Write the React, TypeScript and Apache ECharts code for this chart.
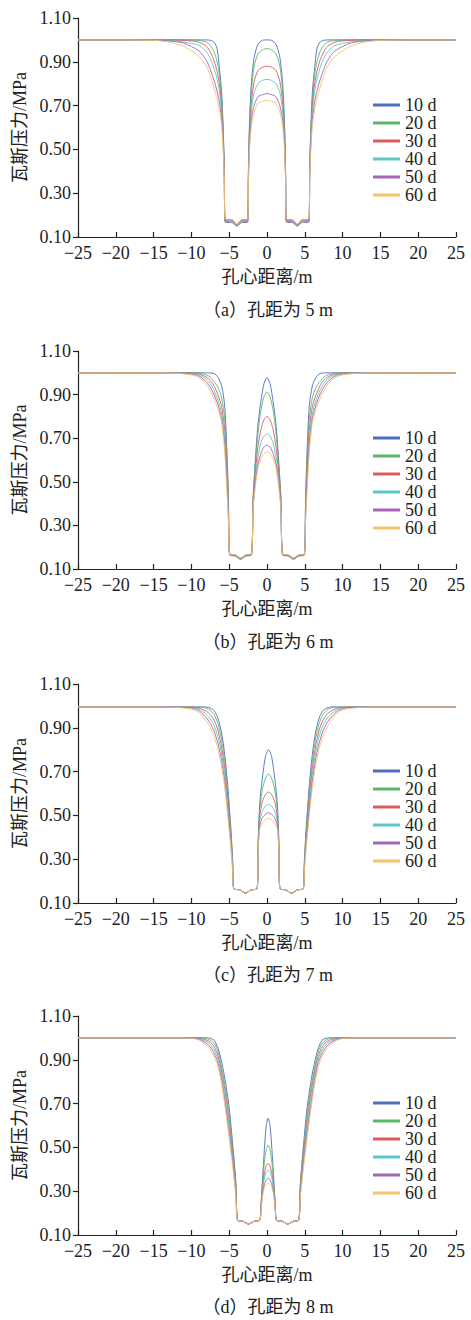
import React, { useEffect, useRef } from "react";
import * as echarts from "echarts";

const SERIES_NAMES = ["10 d", "20 d", "30 d", "40 d", "50 d", "60 d"];
const SERIES_COLORS = ["#4a6fbd", "#5bb86b", "#dd5b60", "#5ec6c6", "#a465b5", "#f5c46c"];
const CAPTIONS = ["（a）孔距为 5 m", "（b）孔距为 6 m", "（c）孔距为 7 m", "（d）孔距为 8 m"];
const X_NAME = "孔心距离/m";
const Y_NAME = "瓦斯压力/MPa";

// Panel (a) 5 m
const P1_X = [-25, -15, -13, -11, -9, -8, -7.5, -7, -6.6, -6.3, -6.0, -5.8, -5.65, -5.55, -4.6, -4.0, -3.4, -2.55, -2.45, -2.3, -2.05, -1.7, -1.2, -0.6, 0, 0.6, 1.2, 1.7, 2.05, 2.3, 2.45, 2.55, 3.4, 4.0, 4.6, 5.55, 5.65, 5.8, 6.0, 6.3, 6.6, 7, 7.5, 8, 9, 11, 13, 15, 25];
const P1_10 = [1, 1, 1, 1, 1, 1, 0.998, 0.99, 0.96, 0.87, 0.76, 0.6, 0.42, 0.168, 0.165, 0.15, 0.165, 0.168, 0.42, 0.64, 0.81, 0.92, 0.98, 0.998, 1, 0.998, 0.98, 0.92, 0.81, 0.64, 0.42, 0.168, 0.165, 0.15, 0.165, 0.168, 0.42, 0.6, 0.76, 0.87, 0.96, 0.99, 0.998, 1, 1, 1, 1, 1, 1];
const P1_20 = [1, 1, 1, 1, 0.998, 0.99, 0.975, 0.945, 0.9, 0.84, 0.73, 0.58, 0.41, 0.172, 0.17, 0.152, 0.17, 0.172, 0.41, 0.61, 0.77, 0.88, 0.935, 0.955, 0.96, 0.955, 0.935, 0.88, 0.77, 0.61, 0.41, 0.172, 0.17, 0.152, 0.17, 0.172, 0.41, 0.58, 0.73, 0.84, 0.9, 0.945, 0.975, 0.99, 0.998, 1, 1, 1, 1];
const P1_30 = [1, 1, 1, 0.998, 0.99, 0.97, 0.945, 0.905, 0.855, 0.8, 0.7, 0.56, 0.4, 0.176, 0.174, 0.154, 0.174, 0.176, 0.4, 0.58, 0.72, 0.81, 0.86, 0.875, 0.88, 0.875, 0.86, 0.81, 0.72, 0.58, 0.4, 0.176, 0.174, 0.154, 0.174, 0.176, 0.4, 0.56, 0.7, 0.8, 0.855, 0.905, 0.945, 0.97, 0.99, 0.998, 1, 1, 1];
const P1_40 = [1, 1, 0.998, 0.99, 0.975, 0.945, 0.915, 0.87, 0.82, 0.765, 0.67, 0.54, 0.39, 0.18, 0.178, 0.156, 0.178, 0.18, 0.39, 0.56, 0.68, 0.76, 0.8, 0.815, 0.82, 0.815, 0.8, 0.76, 0.68, 0.56, 0.39, 0.18, 0.178, 0.156, 0.178, 0.18, 0.39, 0.54, 0.67, 0.765, 0.82, 0.87, 0.915, 0.945, 0.975, 0.99, 0.998, 1, 1];
const P1_50 = [1, 0.999, 0.995, 0.985, 0.95, 0.905, 0.865, 0.815, 0.765, 0.715, 0.635, 0.52, 0.38, 0.18, 0.178, 0.156, 0.178, 0.18, 0.37, 0.53, 0.64, 0.7, 0.74, 0.75, 0.755, 0.75, 0.74, 0.7, 0.64, 0.53, 0.37, 0.18, 0.178, 0.156, 0.178, 0.18, 0.38, 0.52, 0.635, 0.715, 0.765, 0.815, 0.865, 0.905, 0.95, 0.985, 0.995, 0.999, 1];
const P1_60 = [1, 0.998, 0.99, 0.97, 0.925, 0.88, 0.835, 0.78, 0.73, 0.68, 0.61, 0.5, 0.37, 0.182, 0.18, 0.158, 0.18, 0.182, 0.36, 0.51, 0.61, 0.67, 0.71, 0.72, 0.725, 0.72, 0.71, 0.67, 0.61, 0.51, 0.36, 0.182, 0.18, 0.158, 0.18, 0.182, 0.37, 0.5, 0.61, 0.68, 0.73, 0.78, 0.835, 0.88, 0.925, 0.97, 0.99, 0.998, 1];

// Panel (b) 6 m
const P2_X = [-25, -15, -12, -10, -9, -8, -7.5, -7, -6.5, -6.0, -5.6, -5.3, -5.1, -4.95, -4.2, -3.5, -2.8, -2.05, -1.85, -1.5, -1.2, -0.8, -0.4, 0, 0.4, 0.8, 1.2, 1.5, 1.85, 2.05, 2.8, 3.5, 4.2, 4.95, 5.1, 5.3, 5.6, 6.0, 6.5, 7, 7.5, 8, 9, 10, 12, 15, 25];
const P2_10 = [1, 1, 1, 1, 1, 1, 0.999, 0.997, 0.98, 0.94, 0.85, 0.64, 0.42, 0.165, 0.16, 0.145, 0.16, 0.165, 0.42, 0.62, 0.76, 0.87, 0.95, 0.978, 0.95, 0.87, 0.76, 0.62, 0.42, 0.165, 0.16, 0.145, 0.16, 0.165, 0.42, 0.64, 0.85, 0.94, 0.98, 0.997, 0.999, 1, 1, 1, 1, 1, 1];
const P2_20 = [1, 1, 1, 1, 0.999, 0.99, 0.98, 0.96, 0.935, 0.885, 0.79, 0.6, 0.4, 0.165, 0.16, 0.145, 0.16, 0.165, 0.41, 0.6, 0.72, 0.83, 0.89, 0.912, 0.89, 0.83, 0.72, 0.6, 0.41, 0.165, 0.16, 0.145, 0.16, 0.165, 0.4, 0.6, 0.79, 0.885, 0.935, 0.96, 0.98, 0.99, 0.999, 1, 1, 1, 1];
const P2_30 = [1, 1, 1, 0.999, 0.995, 0.98, 0.965, 0.94, 0.9, 0.845, 0.74, 0.56, 0.37, 0.168, 0.163, 0.148, 0.163, 0.168, 0.4, 0.56, 0.66, 0.74, 0.785, 0.8, 0.785, 0.74, 0.66, 0.56, 0.4, 0.168, 0.163, 0.148, 0.163, 0.168, 0.37, 0.56, 0.74, 0.845, 0.9, 0.94, 0.965, 0.98, 0.995, 0.999, 1, 1, 1];
const P2_40 = [1, 1, 1, 0.997, 0.99, 0.97, 0.95, 0.92, 0.875, 0.815, 0.7, 0.52, 0.35, 0.17, 0.165, 0.15, 0.165, 0.17, 0.39, 0.53, 0.61, 0.68, 0.71, 0.72, 0.71, 0.68, 0.61, 0.53, 0.39, 0.17, 0.165, 0.15, 0.165, 0.17, 0.35, 0.52, 0.7, 0.815, 0.875, 0.92, 0.95, 0.97, 0.99, 0.997, 1, 1, 1];
const P2_50 = [1, 1, 0.999, 0.994, 0.985, 0.958, 0.933, 0.9, 0.855, 0.79, 0.67, 0.49, 0.33, 0.17, 0.165, 0.15, 0.165, 0.17, 0.38, 0.51, 0.58, 0.63, 0.66, 0.668, 0.66, 0.63, 0.58, 0.51, 0.38, 0.17, 0.165, 0.15, 0.165, 0.17, 0.33, 0.49, 0.67, 0.79, 0.855, 0.9, 0.933, 0.958, 0.985, 0.994, 0.999, 1, 1];
const P2_60 = [1, 1, 0.998, 0.99, 0.978, 0.945, 0.915, 0.88, 0.835, 0.77, 0.64, 0.46, 0.32, 0.17, 0.165, 0.15, 0.165, 0.17, 0.37, 0.49, 0.56, 0.605, 0.63, 0.638, 0.63, 0.605, 0.56, 0.49, 0.37, 0.17, 0.165, 0.15, 0.165, 0.17, 0.32, 0.46, 0.64, 0.77, 0.835, 0.88, 0.915, 0.945, 0.978, 0.99, 0.998, 1, 1];

// Panel (c) 7 m
const P3_X = [-25, -15, -12, -10, -9, -8, -7.5, -7, -6.5, -6.0, -5.6, -5.2, -4.8, -4.55, -4.4, -3.6, -2.85, -2.1, -1.3, -1.15, -0.95, -0.6, -0.2, 0.2, 0.6, 1.0, 1.35, 1.55, 1.7, 2.5, 3.25, 4.0, 4.8, 4.95, 5.2, 5.6, 6.0, 6.4, 6.9, 7.4, 7.9, 8.4, 9.4, 10.4, 12.4, 15.4, 25];
const P3_10 = [0.995, 0.995, 0.995, 0.995, 0.995, 0.995, 0.99, 0.978, 0.945, 0.875, 0.78, 0.64, 0.45, 0.3, 0.165, 0.16, 0.145, 0.16, 0.165, 0.4, 0.56, 0.675, 0.77, 0.8, 0.77, 0.675, 0.56, 0.4, 0.165, 0.16, 0.145, 0.16, 0.165, 0.3, 0.45, 0.64, 0.78, 0.875, 0.945, 0.978, 0.99, 0.995, 0.995, 0.995, 0.995, 0.995, 0.995];
const P3_20 = [0.995, 0.995, 0.995, 0.995, 0.995, 0.99, 0.98, 0.96, 0.92, 0.845, 0.75, 0.61, 0.43, 0.29, 0.165, 0.16, 0.145, 0.16, 0.165, 0.39, 0.53, 0.62, 0.67, 0.69, 0.67, 0.62, 0.53, 0.39, 0.165, 0.16, 0.145, 0.16, 0.165, 0.29, 0.43, 0.61, 0.75, 0.845, 0.92, 0.96, 0.98, 0.99, 0.995, 0.995, 0.995, 0.995, 0.995];
const P3_30 = [0.995, 0.995, 0.995, 0.995, 0.99, 0.975, 0.96, 0.935, 0.89, 0.81, 0.715, 0.58, 0.41, 0.28, 0.165, 0.16, 0.145, 0.16, 0.165, 0.38, 0.5, 0.565, 0.595, 0.607, 0.595, 0.565, 0.5, 0.38, 0.165, 0.16, 0.145, 0.16, 0.165, 0.28, 0.41, 0.58, 0.715, 0.81, 0.89, 0.935, 0.96, 0.975, 0.99, 0.995, 0.995, 0.995, 0.995];
const P3_40 = [0.995, 0.995, 0.995, 0.993, 0.985, 0.96, 0.94, 0.91, 0.86, 0.78, 0.685, 0.55, 0.39, 0.27, 0.165, 0.16, 0.145, 0.16, 0.165, 0.37, 0.475, 0.52, 0.543, 0.551, 0.543, 0.52, 0.475, 0.37, 0.165, 0.16, 0.145, 0.16, 0.165, 0.27, 0.39, 0.55, 0.685, 0.78, 0.86, 0.91, 0.94, 0.96, 0.985, 0.993, 0.995, 0.995, 0.995];
const P3_50 = [0.995, 0.995, 0.994, 0.99, 0.978, 0.945, 0.92, 0.885, 0.83, 0.75, 0.655, 0.525, 0.375, 0.26, 0.165, 0.16, 0.145, 0.16, 0.165, 0.36, 0.455, 0.49, 0.505, 0.512, 0.505, 0.49, 0.455, 0.36, 0.165, 0.16, 0.145, 0.16, 0.165, 0.26, 0.375, 0.525, 0.655, 0.75, 0.83, 0.885, 0.92, 0.945, 0.978, 0.99, 0.994, 0.995, 0.995];
const P3_60 = [0.995, 0.995, 0.993, 0.985, 0.97, 0.93, 0.9, 0.86, 0.805, 0.72, 0.63, 0.5, 0.36, 0.25, 0.165, 0.16, 0.145, 0.16, 0.165, 0.35, 0.44, 0.465, 0.48, 0.486, 0.48, 0.465, 0.44, 0.35, 0.165, 0.16, 0.145, 0.16, 0.165, 0.25, 0.36, 0.5, 0.63, 0.72, 0.805, 0.86, 0.9, 0.93, 0.97, 0.985, 0.993, 0.995, 0.995];

// Panel (d) 8 m
const P4_X = [-25, -15, -12, -10, -9, -8, -7.5, -7, -6.5, -6.0, -5.5, -5.0, -4.5, -4.1, -3.9, -3.2, -2.45, -1.7, -0.95, -0.8, -0.6, -0.35, -0.1, 0.15, 0.4, 0.65, 0.9, 1.1, 1.25, 2.0, 2.75, 3.5, 4.2, 4.4, 4.8, 5.3, 5.8, 6.3, 6.8, 7.3, 7.8, 8.3, 9.3, 10.3, 12.3, 15.3, 25];
const P4_10 = [1, 1, 1, 1, 1, 1, 0.998, 0.99, 0.955, 0.89, 0.8, 0.68, 0.5, 0.33, 0.168, 0.163, 0.15, 0.163, 0.168, 0.24, 0.35, 0.49, 0.6, 0.633, 0.6, 0.49, 0.35, 0.24, 0.168, 0.163, 0.15, 0.163, 0.168, 0.33, 0.5, 0.68, 0.8, 0.89, 0.955, 0.99, 0.998, 1, 1, 1, 1, 1, 1];
const P4_20 = [1, 1, 1, 1, 1, 0.998, 0.99, 0.975, 0.94, 0.865, 0.77, 0.65, 0.48, 0.32, 0.168, 0.163, 0.15, 0.163, 0.168, 0.23, 0.33, 0.43, 0.49, 0.511, 0.49, 0.43, 0.33, 0.23, 0.168, 0.163, 0.15, 0.163, 0.168, 0.32, 0.48, 0.65, 0.77, 0.865, 0.94, 0.975, 0.99, 0.998, 1, 1, 1, 1, 1];
const P4_30 = [1, 1, 1, 1, 0.999, 0.99, 0.98, 0.96, 0.92, 0.845, 0.745, 0.62, 0.46, 0.305, 0.168, 0.163, 0.15, 0.163, 0.168, 0.225, 0.31, 0.38, 0.415, 0.427, 0.415, 0.38, 0.31, 0.225, 0.168, 0.163, 0.15, 0.163, 0.168, 0.305, 0.46, 0.62, 0.745, 0.845, 0.92, 0.96, 0.98, 0.99, 0.999, 1, 1, 1, 1];
const P4_40 = [1, 1, 1, 1, 0.997, 0.983, 0.97, 0.945, 0.905, 0.825, 0.72, 0.595, 0.44, 0.295, 0.168, 0.163, 0.15, 0.163, 0.168, 0.22, 0.3, 0.36, 0.387, 0.397, 0.387, 0.36, 0.3, 0.22, 0.168, 0.163, 0.15, 0.163, 0.168, 0.295, 0.44, 0.595, 0.72, 0.825, 0.905, 0.945, 0.97, 0.983, 0.997, 1, 1, 1, 1];
const P4_50 = [1, 1, 1, 0.999, 0.994, 0.975, 0.958, 0.93, 0.888, 0.805, 0.695, 0.565, 0.42, 0.28, 0.168, 0.163, 0.15, 0.163, 0.168, 0.215, 0.285, 0.33, 0.352, 0.359, 0.352, 0.33, 0.285, 0.215, 0.168, 0.163, 0.15, 0.163, 0.168, 0.28, 0.42, 0.565, 0.695, 0.805, 0.888, 0.93, 0.958, 0.975, 0.994, 0.999, 1, 1, 1];
const P4_60 = [1, 1, 1, 0.998, 0.99, 0.965, 0.945, 0.915, 0.87, 0.79, 0.67, 0.54, 0.4, 0.27, 0.168, 0.163, 0.15, 0.163, 0.168, 0.21, 0.275, 0.315, 0.33, 0.336, 0.33, 0.315, 0.275, 0.21, 0.168, 0.163, 0.15, 0.163, 0.168, 0.27, 0.4, 0.54, 0.67, 0.79, 0.87, 0.915, 0.945, 0.965, 0.99, 0.998, 1, 1, 1];

const PANEL_X = [P1_X, P2_X, P3_X, P4_X];
const PANEL_Y = [
  [P1_10, P1_20, P1_30, P1_40, P1_50, P1_60],
  [P2_10, P2_20, P2_30, P2_40, P2_50, P2_60],
  [P3_10, P3_20, P3_30, P3_40, P3_50, P3_60],
  [P4_10, P4_20, P4_30, P4_40, P4_50, P4_60],
];

const GRID_TOPS = [18, 351, 684, 1016];
const GRID_HEIGHTS = [219, 218, 219, 219];
const LEGEND_TOPS = [91, 424, 757, 1089];
const CAPTION_YS = [310, 642, 975, 1307];

const FONT = '"Liberation Serif", "Noto Sans CJK SC", serif';
const INK = "#222";

export default function App() {
  const ref = useRef<HTMLDivElement>(null);
  useEffect(() => {
    if (!ref.current) return;
    const chart = echarts.init(ref.current, undefined, { renderer: "svg" });
    const grids: any[] = [];
    const xAxes: any[] = [];
    const yAxes: any[] = [];
    const legends: any[] = [];
    const series: any[] = [];
    const graphics: any[] = [];
    for (let p = 0; p < 4; p++) {
      grids.push({ left: 78, width: 378, top: GRID_TOPS[p], height: GRID_HEIGHTS[p], containLabel: false });
      xAxes.push({
        type: "value",
        gridIndex: p,
        min: -25,
        max: 25,
        interval: 5,
        name: X_NAME,
        nameLocation: "middle",
        nameGap: 31,
        nameTextStyle: { fontSize: 18, color: INK, fontFamily: FONT },
        axisLine: { onZero: false, lineStyle: { color: INK, width: 1.2 } },
        axisTick: { inside: true, length: 5, lineStyle: { color: INK, width: 1.2 } },
        axisLabel: {
          margin: 7,
          fontSize: 18,
          color: INK,
          fontFamily: FONT,
          formatter: (v: number) => (v < 0 ? "\u2212" + Math.abs(v) : String(v)),
        },
        splitLine: { show: false },
      });
      yAxes.push({
        type: "value",
        gridIndex: p,
        min: 0.1,
        max: 1.1,
        interval: 0.2,
        name: Y_NAME,
        nameLocation: "middle",
        nameGap: 46,
        nameTextStyle: { fontSize: 18, color: INK, fontFamily: FONT },
        axisLine: { show: true, onZero: false, lineStyle: { color: INK, width: 1.2 } },
        axisTick: { show: true, inside: false, length: 5, lineStyle: { color: INK, width: 1.2 } },
        axisLabel: {
          margin: 7,
          fontSize: 18,
          color: INK,
          fontFamily: FONT,
          formatter: (v: number) => v.toFixed(2),
        },
        splitLine: { show: false },
      });
      legends.push({
        orient: "vertical",
        left: 368,
        top: LEGEND_TOPS[p],
        icon: "rect",
        itemWidth: 27,
        itemHeight: 3,
        itemGap: 0,
        selectedMode: false,
        data: SERIES_NAMES,
        textStyle: { fontSize: 18, lineHeight: 18, color: INK, fontFamily: FONT },
      });
      const xs = PANEL_X[p];
      for (let s = 0; s < 6; s++) {
        const ys = PANEL_Y[p][s];
        series.push({
          type: "line",
          name: SERIES_NAMES[s],
          xAxisIndex: p,
          yAxisIndex: p,
          data: xs.map((x, i) => [x, ys[i]]),
          showSymbol: false,
          symbol: "none",
          smooth: 0.25,
          color: SERIES_COLORS[s],
          lineStyle: { width: 1, color: SERIES_COLORS[s], opacity: 0.9 },
          z: 2 + s,
        });
      }
      graphics.push({
        type: "text",
        x: 268,
        y: CAPTION_YS[p],
        style: {
          text: CAPTIONS[p],
          font: `18px ${FONT}`,
          fill: INK,
          align: "center",
          verticalAlign: "middle",
        },
      });
    }
    chart.setOption({
      animation: false,
      backgroundColor: "#ffffff",
      textStyle: { fontFamily: FONT },
      grid: grids,
      xAxis: xAxes,
      yAxis: yAxes,
      legend: legends,
      series,
      graphic: graphics,
    });
    return () => chart.dispose();
  }, []);
  return (
    <div
      ref={ref}
      style={{ position: "absolute", left: 0, top: 0, width: 471, height: 1320, background: "#fff" }}
    />
  );
}
